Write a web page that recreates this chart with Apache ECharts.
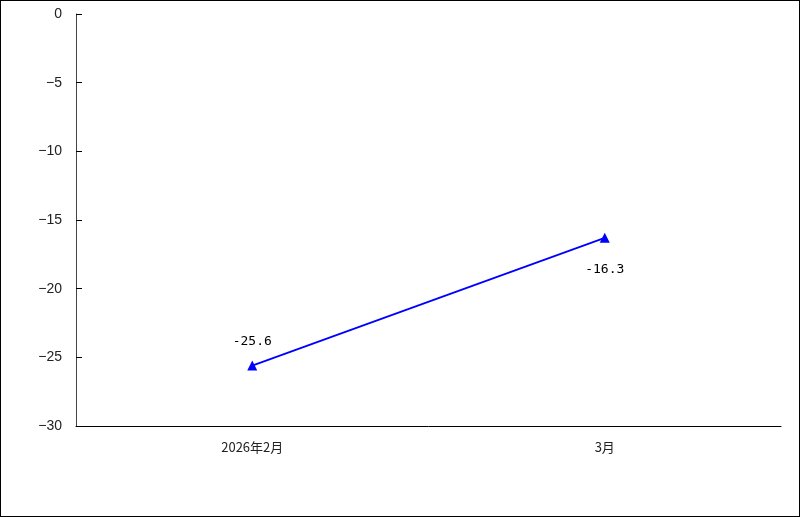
<!DOCTYPE html>
<html><head><meta charset="utf-8">
<script src="https://cdn.jsdelivr.net/npm/echarts@6/dist/echarts.min.js"></script>
<style>html,body{margin:0;padding:0;background:#fff}#c{width:800px;height:517px;box-sizing:border-box;border:1px solid #000}</style>
</head><body><div id="c"></div>
<script>
const categories = ['2026年2月', '3月'];
const values = [-25.6, -16.3];
const yTicks = { min: -30, max: 0, interval: 5 };

const chart = echarts.init(document.getElementById('c'), null, {renderer: 'canvas'});
chart.setOption({
  animation: false,
  grid: { left: 75, right: 18, top: 13, bottom: 90 },
  xAxis: {
    type: 'category', data: categories, boundaryGap: true,
    axisLine: { onZero: false, lineStyle: { color: '#000', width: 1 } },
    axisTick: { inside: true, length: 7, lineStyle: { color: '#000' } },
    axisLabel: { color: '#222', fontSize: 13, margin: 15, fontFamily: 'Noto Sans CJK SC' },
    splitLine: { show: false }
  },
  yAxis: {
    type: 'value', min: yTicks.min, max: yTicks.max, interval: yTicks.interval,
    axisLine: { show: true, lineStyle: { color: '#444', width: 1 } },
    axisTick: { show: true, inside: true, length: 6, lineStyle: { color: '#000' } },
    axisLabel: { color: '#222', fontSize: 14, margin: 14, fontFamily: 'Liberation Sans',
      formatter: v => v < 0 ? '\u2212' + Math.abs(v) : String(v) },
    splitLine: { show: false }
  },
  series: [{
    type: 'line', data: values,
    symbol: 'triangle', symbolSize: 10,
    lineStyle: { color: '#0000ff', width: 1.8 },
    itemStyle: { color: '#0000ff' },
    label: { show: true, color: '#000', fontSize: 13, fontFamily: 'DejaVu Sans Mono',
      formatter: p => p.value.toFixed(1) }
  }]
});
chart.setOption({ series: [{ data: [
  { value: values[0], label: { position: 'top', distance: 12 } },
  { value: values[1], label: { position: 'bottom', distance: 20 } }
] }] });
</script></body></html>
